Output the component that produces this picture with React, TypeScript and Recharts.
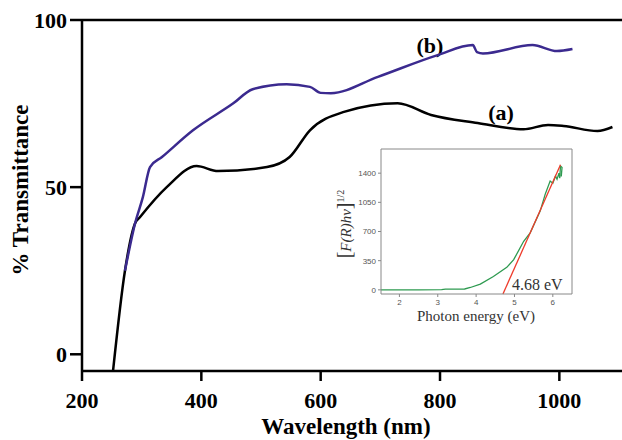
import { Line, LineChart, ReferenceLine, XAxis, YAxis } from "recharts";

// main chart: % transmittance vs wavelength (nm)
const xTicks = [200, 400, 600, 800, 1000];
const yTicks = [0, 50, 100];

const curveA = [
  { wl: 252, t: -5 },
  { wl: 272, t: 25 },
  { wl: 289, t: 39.2 },
  { wl: 297, t: 41 },
  { wl: 342, t: 50 },
  { wl: 392, t: 56.3 },
  { wl: 428, t: 54.8 },
  { wl: 510, t: 56 },
  { wl: 548, t: 59 },
  { wl: 582, t: 67 },
  { wl: 639, t: 72.5 },
  { wl: 729, t: 75.1 },
  { wl: 785, t: 71.6 },
  { wl: 863, t: 69.2 },
  { wl: 940, t: 67.3 },
  { wl: 981, t: 68.6 },
  { wl: 1007, t: 68.3 },
  { wl: 1064, t: 66.8 },
  { wl: 1089, t: 68 },
];

const curveB = [
  { wl: 272, t: 25 },
  { wl: 289, t: 39.2 },
  { wl: 302, t: 47 },
  { wl: 314, t: 56 },
  { wl: 334, t: 59 },
  { wl: 386, t: 67 },
  { wl: 453, t: 75 },
  { wl: 486, t: 79.3 },
  { wl: 543, t: 80.8 },
  { wl: 582, t: 80 },
  { wl: 600, t: 78.2 },
  { wl: 617, t: 78.1 },
  { wl: 696, t: 83 },
  { wl: 796, t: 89.5 },
  { wl: 855, t: 92.5 },
  { wl: 862, t: 90.4 },
  { wl: 872, t: 90 },
  { wl: 955, t: 92.5 },
  { wl: 996, t: 90.7 },
  { wl: 1022, t: 91.3 },
];

// inset: Kubelka-Munk plot
const insetXTicks = [2, 3, 4, 5, 6];
const insetYTicks = [0, 350, 700, 1050, 1400];

const kmCurve = [
  { e: 1.52, k: 0 },
  { e: 2.5, k: 0 },
  { e: 3.1, k: 2 },
  { e: 3.2, k: 8 },
  { e: 3.7, k: 10 },
  { e: 3.85, k: 28 },
  { e: 4.11, k: 68 },
  { e: 4.45, k: 160 },
  { e: 4.8, k: 270 },
  { e: 4.98, k: 362 },
  { e: 5.24, k: 583 },
  { e: 5.41, k: 684 },
  { e: 5.67, k: 945 },
  { e: 5.8, k: 1146 },
  { e: 5.93, k: 1306 },
  { e: 6.0, k: 1280 },
  { e: 6.07, k: 1367 },
  { e: 6.11, k: 1327 },
  { e: 6.16, k: 1400 },
  { e: 6.18, k: 1340 },
  { e: 6.2, k: 1487 },
  { e: 6.24, k: 1468 },
  { e: 6.22, k: 1360 },
];

const fitLine = [
  { e: 4.7, k: -50 },
  { e: 6.2, k: 1500 },
];

const serif = "'Liberation Serif', 'Times New Roman', serif";
const sans = "'Liberation Sans', Arial, sans-serif";

const axisStyle = { stroke: "#000", strokeWidth: 2.5 };
const tickStyle = {
  fill: "#000",
  fontSize: 22,
  fontWeight: "bold",
  fontFamily: serif,
  style: { fontFamily: serif },
};
const insetTick = {
  fill: "#555",
  fontSize: 8,
  fontFamily: sans,
  style: { fontFamily: sans },
};
const serifText = { fontFamily: serif };

const InsetChart = () => (
  <LineChart
    width={250}
    height={190}
    margin={{ top: 9, right: 8, bottom: 0, left: 0 }}
  >
    <XAxis
      dataKey="e"
      type="number"
      domain={[1.52, 6.5]}
      ticks={insetXTicks}
      tick={insetTick}
      tickSize={3}
      tickMargin={2}
      height={36}
      axisLine={{ stroke: "#888" }}
      tickLine={{ stroke: "#888" }}
    />
    <YAxis
      type="number"
      domain={[-50, 1690]}
      ticks={insetYTicks}
      tick={insetTick}
      tickSize={3}
      tickMargin={2}
      width={51}
      axisLine={{ stroke: "#888" }}
      tickLine={{ stroke: "#888" }}
    />
    <ReferenceLine y={1690} stroke="#888" />
    <ReferenceLine x={6.5} stroke="#888" />
    <Line
      data={kmCurve}
      dataKey="k"
      type="linear"
      dot={false}
      stroke="#2e9a50"
      strokeWidth={1.3}
      isAnimationActive={false}
    />
    <Line
      data={fitLine}
      dataKey="k"
      type="linear"
      dot={false}
      stroke="#ee3b2b"
      strokeWidth={1.3}
      isAnimationActive={false}
    />
    <text x={182} y={150} fontSize={16} style={serifText} fill="#333">
      4.68 eV
    </text>
    <text
      x={146}
      y={181}
      fontSize={15}
      style={serifText}
      fill="#333"
      textAnchor="middle"
    >
      Photon energy (eV)
    </text>
    <text
      transform="translate(21,84) rotate(-90)"
      fontSize={15}
      style={serifText}
      fill="#333"
      textAnchor="middle"
    >
      <tspan fontSize={20}>[</tspan>
      <tspan fontStyle="italic">F(R)hν</tspan>
      <tspan fontSize={20}>]</tspan>
      <tspan fontSize={10} dy={-7}>
        1/2
      </tspan>
    </text>
  </LineChart>
);

export default function App() {
  return (
    <div
      style={{
        position: "absolute",
        left: 0,
        top: 0,
        width: 622,
        height: 440,
        background: "#fff",
      }}
    >
      <LineChart
        width={622}
        height={440}
        margin={{ top: 20, right: 0, bottom: 0, left: 0 }}
      >
        <XAxis
          dataKey="wl"
          type="number"
          domain={[200, 1105]}
          ticks={xTicks}
          tick={tickStyle}
          tickSize={10}
          tickMargin={11}
          height={69}
          axisLine={axisStyle}
          tickLine={axisStyle}
        />
        <YAxis
          type="number"
          domain={[-5, 100]}
          ticks={yTicks}
          tick={tickStyle}
          tickSize={12}
          tickMargin={3}
          width={82}
          axisLine={axisStyle}
          tickLine={axisStyle}
        />
        <ReferenceLine y={100} stroke="#000" strokeWidth={2.5} />
        <Line
          data={curveA}
          dataKey="t"
          type="monotone"
          dot={false}
          stroke="#000"
          strokeWidth={2.5}
          isAnimationActive={false}
        />
        <Line
          data={curveB}
          dataKey="t"
          type="monotone"
          dot={false}
          stroke="#3b2a8f"
          strokeWidth={2.5}
          isAnimationActive={false}
        />
        <text
          x={430}
          y={53}
          textAnchor="middle"
          fontSize={22}
          fontWeight="bold"
          style={serifText}
        >
          (b)
        </text>
        <text
          x={501}
          y={120}
          textAnchor="middle"
          fontSize={22}
          fontWeight="bold"
          style={serifText}
        >
          (a)
        </text>
        <text
          x={346}
          y={434}
          textAnchor="middle"
          fontSize={23}
          fontWeight="bold"
          style={serifText}
        >
          Wavelength (nm)
        </text>
        <text
          transform="translate(28,190) rotate(-90)"
          textAnchor="middle"
          fontSize={23}
          fontWeight="bold"
          style={serifText}
        >
          % Transmittance
        </text>
      </LineChart>
      <div style={{ position: "absolute", left: 330, top: 140 }}>
        <InsetChart />
      </div>
    </div>
  );
}
